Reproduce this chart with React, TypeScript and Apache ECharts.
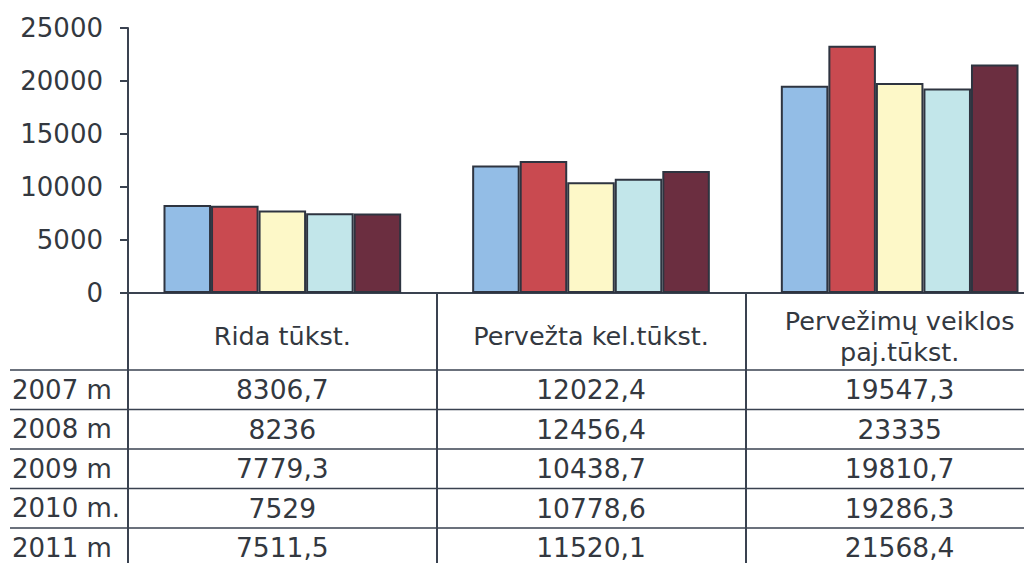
import React, { useEffect, useRef } from "react";
import * as echarts from "echarts";

const categories = ["Rida tūkst.", "Pervežta kel.tūkst.", "Pervežimų veiklos\npaj.tūkst."];
const years = ["2007 m", "2008 m", "2009 m", "2010 m.", "2011 m"];
const v2007 = [8306.7, 12022.4, 19547.3];
const v2008 = [8236, 12456.4, 23335];
const v2009 = [7779.3, 10438.7, 19810.7];
const v2010 = [7529, 10778.6, 19286.3];
const v2011 = [7511.5, 11520.1, 21568.4];
const seriesValues = [v2007, v2008, v2009, v2010, v2011];
const colors = ["#93bde6", "#c94a50", "#fdf8c8", "#c2e6ea", "#6b2e40"];
const yTicks = [0, 5000, 10000, 15000, 20000, 25000];

const FONT = "DejaVu Sans";
const LINE = "#3a4250";
const TEXT = "#333840";
const CANVAS_W = 1060;

export default function App() {
  const ref = useRef<HTMLDivElement>(null);
  useEffect(() => {
    if (!ref.current) return;
    document.body.style.overflow = "hidden";
    const chart = echarts.init(ref.current, null, { renderer: "svg" });
    const gridTop = 28;
    const gridBottomY = 293;
    chart.setOption({
      animation: false,
      backgroundColor: "#ffffff",
      textStyle: { fontFamily: FONT },
      grid: { left: 128, right: 6, top: gridTop, height: gridBottomY - gridTop, containLabel: false },
      xAxis: {
        type: "category",
        data: categories,
        axisLine: { show: true, lineStyle: { color: LINE, width: 2 } },
        axisTick: { show: true, length: 270, lineStyle: { color: LINE, width: 2 } },
        axisLabel: {
          margin: 43,
          verticalAlign: "middle",
          color: TEXT,
          fontFamily: FONT,
          fontSize: 25.5,
          lineHeight: 31,
        },
      },
      yAxis: {
        type: "value",
        min: yTicks[0],
        max: yTicks[yTicks.length - 1],
        interval: 5000,
        axisLine: { show: true, lineStyle: { color: LINE, width: 2 } },
        axisTick: { show: true, length: 8, lineStyle: { color: LINE, width: 2 } },
        splitLine: { show: false },
        axisLabel: {
          margin: 25,
          color: TEXT,
          fontFamily: FONT,
          fontSize: 26,
          formatter: (v: number) => String(v),
        },
      },
      series: seriesValues.map((vals, i) => ({
        type: "bar",
        name: years[i],
        data: vals,
        barGap: "0%",
        barCategoryGap: "23%",
        itemStyle: { color: colors[i], borderColor: "#2e3440", borderWidth: 2 },
      })),
    });

    // Data table below the chart
    const rowTop = 370;
    const rowH = 39.5;
    const elements: any[] = [];
    for (let r = 0; r < years.length; r++) {
      const y = rowTop + r * rowH;
      elements.push({
        type: "line",
        shape: { x1: 10, y1: y, x2: CANVAS_W, y2: y },
        style: { stroke: LINE, lineWidth: 1.5 },
        silent: true,
      });
      elements.push({
        type: "text",
        x: 12,
        y: y + rowH / 2,
        style: {
          text: years[r],
          font: `26px "${FONT}"`,
          fill: TEXT,
          textAlign: "left",
          textVerticalAlign: "middle",
        },
      });
      for (let c = 0; c < categories.length; c++) {
        const px = chart.convertToPixel({ xAxisIndex: 0 }, c) as number;
        elements.push({
          type: "text",
          x: px,
          y: y + rowH / 2,
          style: {
            text: String(seriesValues[r][c]).replace(".", ","),
            font: `26.5px "${FONT}"`,
            fill: TEXT,
            textAlign: "center",
            textVerticalAlign: "middle",
          },
        });
      }
    }
    chart.setOption({ graphic: { elements } });
    return () => chart.dispose();
  }, []);
  return (
    <div
      ref={ref}
      style={{ position: "fixed", left: 0, top: 0, width: CANVAS_W, height: 563, background: "#fff" }}
    />
  );
}
